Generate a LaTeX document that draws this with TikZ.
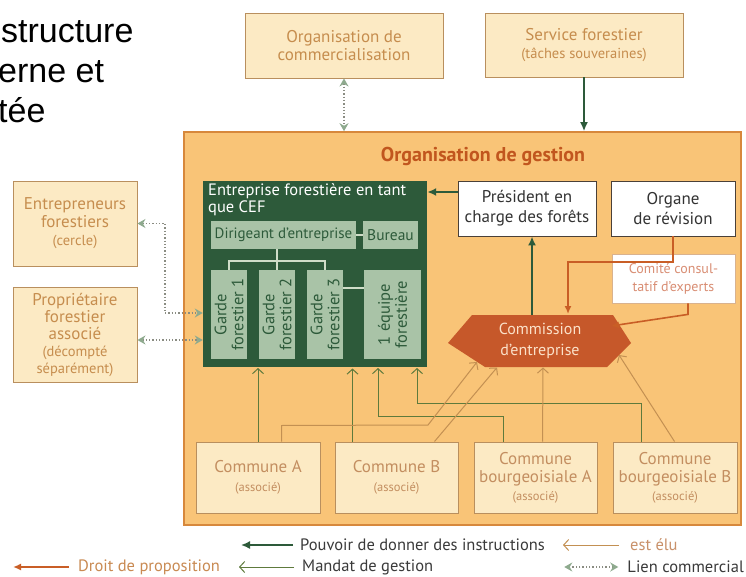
\documentclass[tikz,border=0pt]{standalone}
\usepackage{fontspec}
\setmainfont{PT Sans}
\newfontfamily\arialf{Liberation Sans}
\usetikzlibrary{arrows.meta,calc}
\definecolor{cream}{HTML}{FCEAC4}
\definecolor{boxborder}{HTML}{B98F5E}
\definecolor{ochre}{HTML}{C68D4E}
\definecolor{communetext}{HTML}{C38E60}
\definecolor{mainfill}{HTML}{F9C477}
\definecolor{mainborder}{HTML}{D7883C}
\definecolor{maintitle}{HTML}{C1561E}
\definecolor{darkgreen}{HTML}{2D5A3A}
\definecolor{sagefill}{HTML}{A9C3A7}
\definecolor{treeline}{HTML}{CFDDC8}
\definecolor{textdark}{HTML}{333333}
\definecolor{wborder}{HTML}{4A4038}
\definecolor{comiborder}{HTML}{D9B28E}
\definecolor{comitext}{HTML}{D98E74}
\definecolor{hexfill}{HTML}{C6582A}
\definecolor{hextext}{HTML}{FBE1C9}
\definecolor{orangearr}{HTML}{C95E26}
\definecolor{olivearr}{HTML}{5E7A3C}
\definecolor{tanarr}{HTML}{C39052}
\definecolor{dotgray}{HTML}{8A8C82}
\definecolor{sagearr}{HTML}{8EAA8E}
\definecolor{legtext}{HTML}{3A3A3A}
\definecolor{legtan}{HTML}{C9916A}
\definecolor{legorange}{HTML}{C98A52}
\begin{document}
\begin{tikzpicture}[x=1pt,y=-1pt,
  obox/.style={draw=boxborder, line width=0.9pt, fill=cream, text=ochre, align=center, inner sep=2pt, font=\fontsize{17}{18}\selectfont},
  sagebox/.style={fill=sagefill, draw=none, text=darkgreen, inner sep=0pt, align=center, font=\fontsize{15.5}{16.5}\selectfont},
  wbox/.style={draw=wborder, line width=0.9pt, fill=white, text=textdark, align=center, inner sep=2pt, font=\fontsize{17}{20}\selectfont},
  cbox/.style={draw=boxborder, line width=1pt, fill=cream, text=communetext, align=center, inner sep=2pt, minimum height=71pt, font=\fontsize{17}{18}\selectfont},
  gtext/.style={rotate=90, text=darkgreen, align=center, inner sep=0pt, font=\fontsize{16.5}{17}\selectfont},
  instr/.style={draw=darkgreen, line width=1.8pt, -{Latex[length=9pt,width=8pt]}},
  mandat/.style={draw=olivearr, line width=1pt, -{Straight Barb[length=5pt,width=11pt]}},
  elu/.style={draw=tanarr, line width=1pt, -{Straight Barb[length=5pt,width=11pt]}},
  propo/.style={draw=orangearr, line width=1.6pt, -{Latex[length=8pt,width=7pt]}},
  lien/.style={draw=dotgray, line width=1.3pt, dotted, {Stealth[length=8pt,width=9pt,color=sagearr]}-{Stealth[length=8pt,width=9pt,color=sagearr]}},
  legend/.style={inner sep=0pt, font=\fontsize{16.5}{18}\selectfont}
]
\useasboundingbox (0,0) rectangle (746,577);
\fill[white] (0,0) rectangle (746,577);
\clip (0,0) rectangle (746,577);

% title fragments
\node[anchor=base west, inner sep=0pt, font=\arialf\fontsize{34}{40}\selectfont] (t1) at (1,43) {structure};
\node[anchor=base west, inner sep=0pt, font=\arialf\fontsize{34}{40}\selectfont] (t2) at (-2,83) {erne et};
\node[anchor=base west, inner sep=0pt, font=\arialf\fontsize{34}{40}\selectfont] (t3) at (-2,123) {tée};

% main box
\node[draw=mainborder, line width=1.6pt, fill=mainfill, minimum width=557pt, minimum height=393pt, inner sep=0pt] (main) at (462.5,328.5) {};
\node[text=maintitle, font=\bfseries\fontsize{20}{22}\selectfont, inner sep=0pt] (mtitle) at (483,156) {Organisation de gestion};

% top boxes
\node[obox, minimum width=198pt, minimum height=65pt] (comm) at (344,45.5) {Organisation de\\commercialisation};
\node[obox, minimum width=198pt, minimum height=64pt] (serv) at (584,45) {Service forestier\\{\fontsize{14.5}{16}\selectfont (tâches souveraines)}};

% left boxes
\node[obox, minimum width=124pt, minimum height=85pt] (ent) at (75,223.5) {Entrepreneurs\\forestiers\\{\fontsize{14.5}{16}\selectfont (cercle)}};
\node[obox, minimum width=124pt, minimum height=95pt, font=\fontsize{17}{17}\selectfont] (prop) at (75,334.5) {Propriétaire\\forestier\\associé\\{\fontsize{14.5}{16}\selectfont (décompté}\\{\fontsize{14.5}{16}\selectfont séparément)}};

% communes
\node[cbox, minimum width=124pt] (cA) at (258,477.5) {Commune A\\[1pt]{\fontsize{12.5}{14}\selectfont (associé)}};
\node[cbox, minimum width=123pt] (cB) at (396.5,477.5) {Commune B\\[1pt]{\fontsize{12.5}{14}\selectfont (associé)}};
\node[cbox, minimum width=123pt] (cbA) at (535.5,477.5) {Commune\\bourgeoisiale A\\{\fontsize{12.5}{14}\selectfont (associé)}};
\node[cbox, minimum width=124pt] (cbB) at (675,477.5) {Commune\\bourgeoisiale B\\{\fontsize{12.5}{14}\selectfont (associé)}};

% hexagon commission
\coordinate (hexL) at (448,343);
\coordinate (hexTL) at (472,315);
\coordinate (hexTR) at (613,315);
\coordinate (hexR) at (631,343);
\coordinate (hexBR) at (607,367);
\coordinate (hexBL) at (485,367);

% connectors: mandat de gestion
\draw[mandat] (cA.north) -- (cA.north |- 0,368);
\draw[mandat] ($(cB.north west)+(18,0)$) -- ++(0,-73);
\draw[mandat] ($(cbA.north west)+(30,0)$) -- ++(0,-25) -| (378,368);
\draw[mandat] ($(cbB.north west)+(29,0)$) -- ++(0,-38) -| (417,368);
% connectors: est elu
\draw[elu] ($(cA.north west)+(86,0)$) -- ++(0,-16) -- (428,425) -- (477,362);
\draw[elu] ($(cB.north west)+(100,0)$) -- (497,367.5);
\draw[elu] ($(cbA.north west)+(69,0)$) -- (543,367.5);
\draw[elu] ($(cbB.north west)+(62,0)$) -- (619,355);

\fill[hexfill] (hexL) -- (hexTL) -- (hexTR) -- (hexR) -- (hexBR) -- (hexBL) -- cycle;
\node[text=hextext, align=center, font=\fontsize{16}{21}\selectfont, inner sep=0pt] (com) at (540,341) {Commission\\d'entreprise};

% CEF box
\node[fill=darkgreen, minimum width=224pt, minimum height=186pt, inner sep=0pt] (cef) at (315,274) {};
\node[anchor=north west, text=white, align=left, inner sep=0pt, font=\fontsize{16.5}{17}\selectfont] (ceft) at (208,183) {Entreprise forestière en tant\\que CEF};
\node[sagebox, minimum width=145pt, minimum height=28pt, font=\fontsize{15}{16}\selectfont] (dir) at (283.5,235) {Dirigeant d'entreprise};
\node[sagebox, minimum width=55pt, minimum height=28pt] (bur) at (390.5,235) {Bureau};
\draw[treeline, line width=1.3pt] (dir.east) -- (bur.west);
\draw[treeline, line width=1.3pt] (277,249) -- (277,270);
\draw[treeline, line width=1.3pt] (229,270) -- (229,261) -- (325,261) -- (325,270);
\node[sagebox, minimum width=36pt, minimum height=89pt] (g1) at (229,314.5) {};
\node[sagebox, minimum width=36pt, minimum height=89pt] (g2) at (277,314.5) {};
\node[sagebox, minimum width=36pt, minimum height=89pt] (g3) at (325,314.5) {};
\node[sagebox, minimum width=57pt, minimum height=89pt] (eq) at (392.5,314.5) {};
\node[gtext] (g1t) at (g1) {Garde\\forestier 1};
\node[gtext] (g2t) at (g2) {Garde\\forestier 2};
\node[gtext] (g3t) at (g3) {Garde\\forestier 3};
\node[gtext] (eqt) at (eq) {1 équipe\\forestière};
\draw[treeline, line width=1.3pt] (g3.east |- 0,288) -- (eq.west |- 0,288);

% right boxes
\node[wbox, minimum width=138pt, minimum height=55pt] (pres) at (527,208.5) {Président en\\charge des forêts};
\node[wbox, minimum width=124pt, minimum height=55pt] (org) at (673,208.5) {Organe\\de révision};
\node[draw=comiborder, line width=0.8pt, fill=white, text=comitext, align=center, inner sep=2pt, font=\fontsize{14}{18}\selectfont, minimum width=123pt, minimum height=49pt] (comi) at (673.5,278.5) {Comité consul-\\tatif d'experts};

% instruction arrows
\draw[instr] (serv.south) -- (serv.south |- main.north);
\draw[instr] (pres.west |- 0,192) -- (cef.east |- 0,192);
\draw[instr] (532,315) -- (pres.south -| 532,0);
% proposition arrows
\draw[propo] (org.south) |- (568,262) -- (568,314);
\draw[propo] ($(comi.south)+(14.5,0)$) -- ++(0,11) -- (611,326);
% lien commercial
\draw[lien] (comm.south) -- (comm.south |- main.north);
\draw[lien] (ent.east) -- (165,223.5) -- (165,313) -- (cef.west |- 0,313);
\draw[lien] (prop.east |- 0,340) -- (cef.west |- 0,340);

% legend
\node[legend, anchor=west, text=legtext] (l1) at (300,545) {Pouvoir de donner des instructions};
\draw[instr, line width=1.6pt] ($(l1.west)+(-7,0)$) -- ++(-52,0);
\node[legend, anchor=west, text=legtan] (l2) at (630,545) {est élu};
\draw[elu] ($(l2.west)+(-11,0)$) -- ++(-56,0);
\node[legend, anchor=west, text=legorange] (l3) at (78,567) {Droit de proposition};
\draw[propo] ($(l3.west)+(-9,0)$) -- ++(-56,0);
\node[legend, anchor=west, text=legtext] (l4) at (302,567) {Mandat de gestion};
\draw[mandat] ($(l4.west)+(-8,0)$) -- ++(-55,0);
\node[legend, anchor=east, text=legtext] (l5) at (744,567) {Lien commercial};
\draw[lien] ($(l5.west)+(-9,0)$) -- ++(-54,0);
\end{tikzpicture}
\end{document}
